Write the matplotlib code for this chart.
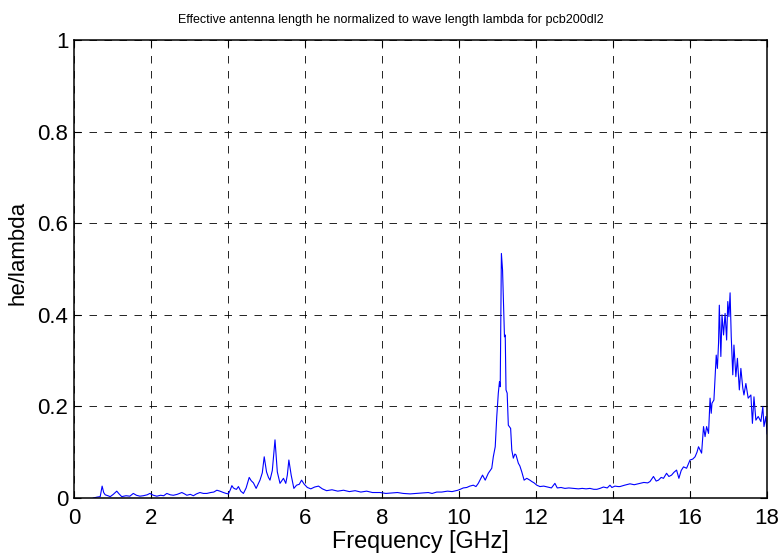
import numpy as np
import matplotlib
matplotlib.use('Agg')
import matplotlib.pyplot as plt

plt.rcParams['font.family'] = ['Liberation Sans', 'DejaVu Sans']

# values, frequency in GHz / he/lambda
# 0.5 - 4 GHz, low ripple
f_low = [0.50, 0.60, 0.68, 0.73, 0.77, 0.81, 0.88, 0.94, 1.02, 1.11,
         1.17, 1.24, 1.35, 1.45, 1.54, 1.62, 1.71, 1.80, 1.90, 1.97,
         2.06, 2.15, 2.25, 2.33, 2.41, 2.50, 2.58, 2.68, 2.80, 2.87,
         2.93, 3.02, 3.10, 3.18, 3.27, 3.36, 3.45, 3.55, 3.63, 3.71,
         3.79, 3.88, 3.95, 4.01]
h_low = [0.000, 0.002, 0.003, 0.026, 0.012, 0.007, 0.005, 0.003, 0.008, 0.015,
         0.009, 0.003, 0.005, 0.004, 0.010, 0.006, 0.004, 0.005, 0.007, 0.010,
         0.006, 0.004, 0.006, 0.005, 0.010, 0.007, 0.006, 0.008, 0.012, 0.009,
         0.006, 0.008, 0.005, 0.009, 0.012, 0.010, 0.010, 0.012, 0.013, 0.017,
         0.015, 0.012, 0.010, 0.009]

# 4 - 6.5 GHz, small resonances
f_res1 = [4.06, 4.10, 4.14, 4.18, 4.22, 4.27, 4.33, 4.40, 4.47, 4.55,
          4.60, 4.66, 4.73, 4.78, 4.83, 4.89, 4.94, 5.00, 5.05, 5.09,
          5.15, 5.22, 5.28, 5.35, 5.40, 5.44, 5.50, 5.54, 5.58, 5.64,
          5.71, 5.78, 5.85, 5.91, 5.98, 6.06, 6.15, 6.25, 6.35, 6.45]
h_res1 = [0.018, 0.027, 0.022, 0.020, 0.019, 0.025, 0.015, 0.010, 0.022, 0.045,
          0.038, 0.033, 0.021, 0.030, 0.039, 0.055, 0.090, 0.057, 0.045, 0.039,
          0.060, 0.127, 0.057, 0.032, 0.038, 0.043, 0.032, 0.050, 0.083, 0.050,
          0.021, 0.028, 0.030, 0.039, 0.030, 0.023, 0.020, 0.024, 0.026, 0.020]

# 6.5 - 10 GHz, flat
f_mid = [6.56, 6.70, 6.85, 7.00, 7.15, 7.30, 7.45, 7.60, 7.75, 7.95,
         8.10, 8.25, 8.40, 8.55, 8.73, 8.90, 9.05, 9.20, 9.30, 9.42,
         9.55, 9.70, 9.82, 9.97]
h_mid = [0.016, 0.018, 0.015, 0.017, 0.014, 0.016, 0.013, 0.015, 0.012, 0.012,
         0.010, 0.011, 0.012, 0.010, 0.009, 0.010, 0.011, 0.012, 0.010, 0.013,
         0.013, 0.015, 0.014, 0.017]

# 10 - 12 GHz, main resonance
f_res2 = [10.03, 10.11, 10.20, 10.28, 10.37, 10.44, 10.50, 10.55, 10.61, 10.68,
          10.76, 10.85, 10.89, 10.94, 10.98, 11.02, 11.05, 11.07, 11.10, 11.13,
          11.18, 11.20, 11.22, 11.25, 11.28, 11.34, 11.37, 11.41, 11.45, 11.48,
          11.54, 11.58, 11.63, 11.69, 11.76, 11.84, 11.89, 11.95, 12.02]
h_res2 = [0.019, 0.022, 0.023, 0.026, 0.028, 0.025, 0.032, 0.040, 0.050, 0.039,
          0.054, 0.065, 0.090, 0.112, 0.178, 0.229, 0.254, 0.243, 0.534, 0.498,
          0.352, 0.356, 0.236, 0.229, 0.159, 0.152, 0.105, 0.087, 0.096, 0.094,
          0.076, 0.070, 0.057, 0.039, 0.043, 0.039, 0.036, 0.033, 0.028]

# 12 - 16 GHz, slow rise
f_rise = [12.10, 12.20, 12.30, 12.40, 12.49, 12.55, 12.65, 12.75, 12.85, 12.97,
          13.10, 13.20, 13.30, 13.40, 13.50, 13.58, 13.66, 13.75, 13.85, 13.92,
          13.97, 14.05, 14.13, 14.18, 14.30, 14.44, 14.55, 14.70, 14.80, 14.90,
          14.96, 15.05, 15.12, 15.18, 15.25, 15.31, 15.39, 15.45, 15.52, 15.58,
          15.65, 15.71, 15.77, 15.83, 15.91, 15.96, 16.00, 16.07]
h_rise = [0.025, 0.026, 0.024, 0.022, 0.032, 0.022, 0.023, 0.021, 0.022, 0.021,
          0.020, 0.021, 0.020, 0.021, 0.019, 0.019, 0.021, 0.024, 0.022, 0.028,
          0.023, 0.026, 0.025, 0.025, 0.028, 0.031, 0.029, 0.032, 0.034, 0.033,
          0.036, 0.047, 0.037, 0.039, 0.045, 0.043, 0.054, 0.047, 0.050, 0.056,
          0.061, 0.043, 0.060, 0.068, 0.065, 0.075, 0.083, 0.085]

# 16 - 18 GHz, upper resonance
f_res3 = [16.13, 16.18, 16.22, 16.26, 16.30, 16.35, 16.39, 16.43, 16.48, 16.52,
          16.55, 16.57, 16.62, 16.68, 16.71, 16.74, 16.76, 16.80, 16.83, 16.87,
          16.91, 16.95, 16.98, 17.01, 17.04, 17.07, 17.11, 17.14, 17.19, 17.23,
          17.28, 17.32, 17.37, 17.40, 17.45, 17.51, 17.58, 17.62, 17.66, 17.71,
          17.77, 17.84, 17.89, 17.92, 17.97, 18.00]
h_res3 = [0.090, 0.100, 0.112, 0.105, 0.098, 0.156, 0.134, 0.156, 0.141, 0.218,
          0.185, 0.207, 0.214, 0.312, 0.283, 0.338, 0.421, 0.309, 0.400, 0.356,
          0.403, 0.345, 0.429, 0.396, 0.448, 0.352, 0.269, 0.334, 0.265, 0.305,
          0.236, 0.283, 0.240, 0.225, 0.250, 0.218, 0.225, 0.163, 0.221, 0.170,
          0.178, 0.167, 0.199, 0.156, 0.178, 0.140]

freq = f_low + f_res1 + f_mid + f_res2 + f_rise + f_res3
he_lambda = h_low + h_res1 + h_mid + h_res2 + h_rise + h_res3

fig = plt.figure(figsize=(7.8, 5.58), dpi=100)
ax = fig.add_axes([0.0949, 0.1075, 0.8885, 0.8208])

ax.plot(freq, he_lambda, color='#0000ff', linewidth=0.8)

ax.set_xlim(0, 18)
ax.set_ylim(0, 1)
ax.set_xticks(np.arange(0, 19, 2))
ax.set_yticks([0, 0.2, 0.4, 0.6, 0.8, 1])
ax.set_yticklabels(['0', '0.2', '0.4', '0.6', '0.8', '1'])
ax.grid(True, linestyle=(0, (9, 9)), color='black', linewidth=0.6)
ax.tick_params(direction='in', top=True, right=True, labelsize=16, length=5, width=0.8)
ax.tick_params(axis='x', pad=7)
ax.tick_params(axis='y', pad=4)
for s in ax.spines.values():
    s.set_linewidth(1.1)

ax.set_xlabel('Frequency [GHz]', fontsize=16.8, labelpad=1)
ax.set_ylabel('he/lambda', fontsize=16)
ax.yaxis.set_label_coords(-0.066, 0.535)
# title in the original sits a bit left of the axes centre
ax.set_title('Effective antenna length he normalized to wave length lambda for pcb200dl2',
             fontsize=9, pad=12, x=0.457)

fig.savefig('out.png', dpi=100)
